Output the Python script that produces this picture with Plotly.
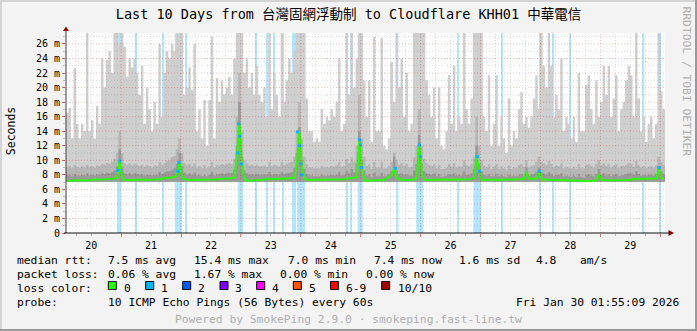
import plotly.graph_objects as go
from datetime import datetime, timedelta

# ---------------- data ----------------
END_TIME = datetime(2026, 1, 30, 1, 55, 9)
HOURS = 240
START_TIME = END_TIME - timedelta(hours=HOURS)
Y_MAX = 27.5          # ms, top of graph
SMOKE_FLOOR = 7.05    # ms, lowest ping

# outer smoke (max ping) per hour, ms; one list per day starting 01:55
smoke_max_d1 = [16.5, 17.2, 13, 22.7, 15, 13, 15, 14, 27.5, 14, 15.5, 13, 17.5, 15, 24, 20, 23.8, 25, 22, 27.5, 27.5, 26, 27.5, 25.6]
smoke_max_d2 = [21.5, 24, 22.8, 24, 22, 19, 23, 15, 20, 17, 14, 18, 15, 26, 16, 22, 25, 24, 26, 25, 27.5, 27.5, 27.5, 19]
smoke_max_d3 = [20, 22.8, 19.7, 26, 14, 17, 13, 18.3, 12, 18.3, 27, 13, 21.3, 18, 21, 19, 20, 21.5, 19, 24, 27.5, 27.5, 27.5, 22]
smoke_max_d4 = [24, 20, 22, 19, 23, 19, 18, 20, 16, 27.5, 17, 22, 19, 16, 27.5, 18, 21, 24, 22, 25, 27.5, 27.5, 27.5, 27.5]
smoke_max_d5 = [18.5, 14, 14, 12.5, 13, 12.5, 17, 15, 16, 15.5, 17, 16, 18, 24, 14, 15, 27.5, 19, 27.5, 20, 24, 27.5, 27.5, 21]
smoke_max_d6 = [16, 21, 12.5, 27, 14, 14, 26.8, 12, 11.5, 13, 23.5, 18, 27.5, 20, 24, 16, 22, 14, 15, 27.5, 27.5, 27.5, 27.5, 27.5]
smoke_max_d7 = [21, 19, 16, 20, 13, 20, 12, 11.5, 14, 21.7, 15, 23, 14, 16, 15, 27.5, 17, 15, 18.5, 27.5, 27.5, 27.5, 27.5, 16]
smoke_max_d8 = [14, 21.7, 12, 15, 21.7, 12, 16, 13, 11, 18.5, 12, 14, 13, 17, 19.4, 15, 16, 14.5, 16, 18.5, 21.7, 17, 27.5, 23]
smoke_max_d9 = [20, 27.5, 23, 16, 19, 17, 24, 14, 16, 15, 13, 16, 12.5, 22, 14, 14, 20.4, 21.7, 17, 15, 21, 16, 18, 23]
smoke_max_d10 = [19, 23, 16, 18.5, 21.7, 14, 17, 18, 21, 23, 21.7, 16, 27.5, 18.5, 14, 16, 12.5, 15, 16, 13, 15, 27.5, 19.5, 17]

# inner smoke band (mid pings) per hour, ms
smoke_mid_d1 = [9.0, 9.2, 8.9, 9.3, 9.1, 9.0, 9.2, 9.0, 9.4, 9.1, 9.2, 9.0, 9.3, 9.2, 9.5, 9.4, 9.6, 9.5, 9.8, 10.2, 11, 14, 11, 9.6]
smoke_mid_d2 = [9.4, 9.6, 9.3, 9.5, 9.4, 9.2, 9.4, 9.1, 9.3, 9.2, 9.0, 9.3, 9.2, 9.8, 9.4, 9.6, 9.9, 10.0, 10.4, 10.6, 11.5, 13, 11, 9.6]
smoke_mid_d3 = [9.3, 9.5, 9.2, 9.6, 9.0, 9.2, 8.9, 9.3, 8.9, 9.2, 9.8, 9.0, 9.4, 9.3, 9.5, 9.4, 9.5, 9.6, 9.5, 10.2, 16, 22, 14, 10]
smoke_mid_d4 = [9.6, 9.3, 9.4, 9.2, 9.4, 9.2, 9.2, 9.3, 9.1, 9.8, 9.2, 9.4, 9.3, 9.1, 9.8, 9.3, 9.5, 9.7, 9.8, 10.5, 14, 18, 13, 10.5]
smoke_mid_d5 = [9.5, 9.0, 9.0, 8.9, 8.9, 8.9, 9.2, 9.0, 9.1, 9.0, 9.2, 9.1, 9.3, 9.8, 9.1, 9.2, 10.2, 9.6, 10.5, 9.8, 12, 19, 13, 10.5]
smoke_mid_d6 = [9.2, 9.5, 8.8, 9.8, 9.0, 9.0, 9.8, 8.9, 8.9, 9.2, 9.8, 11, 10, 9.4, 9.6, 9.2, 9.5, 9.0, 9.1, 10.4, 12, 17, 12, 10.2]
smoke_mid_d7 = [9.6, 9.4, 9.2, 9.5, 8.9, 9.4, 8.8, 8.8, 9.0, 9.5, 9.1, 9.6, 9.0, 9.2, 9.1, 10, 9.3, 9.2, 9.5, 10.5, 16, 12, 10, 9.2]
smoke_mid_d8 = [9.0, 9.5, 8.8, 9.1, 9.5, 8.8, 9.2, 8.9, 8.7, 9.3, 8.8, 9.0, 8.9, 9.3, 9.5, 9.1, 10, 9.0, 9.2, 9.4, 9.8, 10.5, 9.8, 9.6]
smoke_mid_d9 = [9.3, 9.9, 9.5, 9.1, 9.3, 9.2, 9.6, 8.9, 9.1, 9.0, 8.9, 9.1, 8.8, 9.5, 8.9, 8.9, 9.4, 9.5, 9.2, 9.0, 9.5, 10, 9.3, 9.6]
smoke_mid_d10 = [9.2, 9.5, 9.0, 9.3, 9.5, 8.9, 9.2, 9.2, 9.4, 9.6, 9.5, 9.1, 9.9, 9.3, 9.0, 9.2, 8.9, 9.1, 9.2, 9.0, 9.3, 10.5, 9.8, 9.4]

# innermost smoke band per hour, ms
smoke_in_d1 = [7.9, 8.0, 7.8, 8.1, 7.9, 7.9, 8.0, 7.9, 8.2, 7.9, 8.0, 7.9, 8.1, 8.0, 8.2, 8.1, 8.3, 8.2, 8.4, 8.6, 9.2, 11.5, 9, 8.2]
smoke_in_d2 = [8.1, 8.2, 8.0, 8.2, 8.1, 8.0, 8.1, 7.9, 8.0, 8.0, 7.9, 8.0, 8.0, 8.4, 8.1, 8.3, 8.5, 8.5, 8.7, 8.9, 9.5, 11, 9.2, 8.3]
smoke_in_d3 = [8.0, 8.2, 8.0, 8.3, 7.9, 8.0, 7.8, 8.0, 7.8, 8.0, 8.4, 7.9, 8.1, 8.1, 8.2, 8.1, 8.2, 8.3, 8.3, 8.7, 12, 18, 10.5, 8.6]
smoke_in_d4 = [8.2, 8.0, 8.1, 8.0, 8.1, 8.0, 8.0, 8.1, 8.0, 8.4, 8.0, 8.1, 8.1, 8.0, 8.4, 8.1, 8.2, 8.3, 8.4, 8.9, 11, 14.5, 10, 8.8]
smoke_in_d5 = [8.1, 7.9, 7.9, 7.8, 7.8, 7.8, 8.0, 7.9, 7.9, 7.9, 8.0, 7.9, 8.0, 8.4, 7.9, 8.0, 8.6, 8.2, 8.8, 8.4, 9.5, 14, 10, 8.6]
smoke_in_d6 = [7.9, 8.1, 7.7, 8.3, 7.8, 7.8, 8.3, 7.8, 7.9, 8.1, 8.5, 10.5, 8.6, 8.1, 8.2, 8.0, 8.1, 7.9, 7.9, 8.6, 9.5, 13.5, 9.5, 8.5]
smoke_in_d7 = [8.2, 8.1, 8.0, 8.2, 7.8, 8.1, 7.7, 7.8, 7.9, 8.1, 8.0, 8.2, 7.9, 8.0, 7.9, 8.5, 8.0, 8.0, 8.2, 8.8, 12, 9.5, 8.5, 8.0]
smoke_in_d8 = [7.9, 8.1, 7.8, 7.9, 8.1, 7.8, 8.0, 7.8, 7.7, 8.0, 7.8, 7.9, 7.8, 8.0, 8.1, 7.9, 9, 7.9, 8.0, 8.1, 8.4, 9, 8.4, 8.2]
smoke_in_d9 = [8.0, 8.4, 8.1, 7.9, 8.0, 8.0, 8.2, 7.8, 7.9, 7.8, 7.7, 7.9, 7.7, 8.1, 7.7, 7.6, 8.0, 8.1, 7.9, 7.8, 8.1, 8.8, 8.0, 8.2]
smoke_in_d10 = [7.9, 8.1, 7.8, 8.0, 8.1, 7.8, 7.9, 8.0, 8.1, 8.2, 8.2, 8.0, 8.5, 8.1, 7.9, 8.0, 7.9, 8.0, 8.0, 7.9, 8.1, 9.2, 8.5, 8.1]

# median rtt per hour, ms
median_d1 = [7.2, 7.2, 7.25, 7.25, 7.3, 7.3, 7.3, 7.25, 7.3, 7.3, 7.3, 7.35, 7.35, 7.3, 7.35, 7.4, 7.4, 7.45, 7.45, 7.5, 7.6, 9.9, 7.5, 7.3]
median_d2 = [7.3, 7.3, 7.3, 7.25, 7.3, 7.3, 7.3, 7.3, 7.35, 7.35, 7.3, 7.35, 7.35, 7.4, 7.5, 7.55, 7.55, 7.6, 7.6, 7.7, 8.0, 9.7, 7.6, 7.4]
median_d3 = [7.3, 7.3, 7.3, 7.3, 7.25, 7.3, 7.3, 7.3, 7.3, 7.3, 7.35, 7.35, 7.4, 7.45, 7.45, 7.45, 7.5, 7.5, 7.5, 7.6, 11, 15, 9, 7.4]
median_d4 = [7.2, 7.2, 7.2, 7.2, 7.2, 7.25, 7.3, 7.4, 7.45, 7.45, 7.45, 7.4, 7.45, 7.5, 7.5, 7.45, 7.5, 7.5, 7.55, 7.6, 9.5, 13.9, 9, 7.5]
median_d5 = [7.3, 7.3, 7.3, 7.3, 7.3, 7.3, 7.3, 7.3, 7.3, 7.3, 7.3, 7.3, 7.3, 7.35, 7.4, 7.4, 7.5, 7.5, 7.55, 7.6, 7.7, 12.8, 9, 7.3]
median_d6 = [7.2, 7.2, 7.2, 7.2, 7.2, 7.2, 7.2, 7.3, 7.5, 7.7, 8.0, 8.9, 7.6, 7.4, 7.3, 7.3, 7.3, 7.3, 7.3, 7.35, 7.5, 12.1, 8.5, 7.3]
median_d7 = [7.3, 7.3, 7.3, 7.3, 7.3, 7.3, 7.3, 7.35, 7.4, 7.4, 7.35, 7.3, 7.3, 7.3, 7.3, 7.3, 7.35, 7.4, 7.45, 7.6, 10.5, 8.5, 7.3, 7.3]
median_d8 = [7.3, 7.3, 7.3, 7.3, 7.3, 7.3, 7.3, 7.3, 7.3, 7.35, 7.4, 7.4, 7.4, 7.4, 7.4, 7.45, 8.4, 7.45, 7.4, 7.45, 7.5, 8.5, 7.4, 7.35]
median_d9 = [7.35, 7.3, 7.3, 7.3, 7.3, 7.3, 7.3, 7.3, 7.25, 7.25, 7.2, 7.2, 7.2, 7.2, 7.2, 7.1, 7.1, 7.2, 7.2, 7.2, 7.25, 8.1, 7.3, 7.25]
median_d10 = [7.25, 7.25, 7.25, 7.25, 7.25, 7.25, 7.25, 7.3, 7.3, 7.3, 7.4, 7.45, 7.45, 7.45, 7.45, 7.45, 7.45, 7.5, 7.45, 7.45, 7.5, 8.9, 7.5, 7.45]

# dark cores of the evening peaks: hour index and top (ms)
core_hour = [21, 45, 68, 69, 70, 92, 93, 94, 117, 118, 131, 141, 164, 165, 184, 189, 213, 237]
core_top = [10.5, 10.3, 11, 16, 9.5, 10, 14, 9, 13.5, 9, 9.8, 12.8, 11.2, 8.8, 8.6, 8.7, 8.4, 8.9]

# packet-loss periods: start (hours after start) and length (hours)
loss_start_h = [20.6, 21.6, 28.0, 38.8, 43.9, 44.5, 45.2, 45.9, 47.8, 69.0, 69.5, 70.3, 76.0, 80.5, 83.2, 86.7,
                90.8, 91.7, 92.6, 112.3, 114.0, 116.9, 132.3, 140.3, 156.9, 163.2, 174.3, 189.6, 194.9, 201.6, 230.9, 237.6]
loss_len_h = [0.4, 0.4, 0.4, 0.4, 0.45, 0.45, 0.45, 0.5, 0.4, 0.45, 0.45, 0.45, 0.4, 0.4, 0.4, 0.4,
              0.4, 0.4, 3.2, 0.4, 0.4, 2.0, 0.9, 2.9, 0.4, 3.2, 0.4, 0.4, 0.4, 0.4, 0.4, 0.4]

# median samples with 1/10 loss (hours after start, ms)
loss_dot_h = [20.8, 21.6, 44.8, 45.2, 68.8, 69.2, 69.6, 70.2, 92.8, 93.6, 94.0, 94.4, 117.6, 118.0, 118.4,
              132.0, 141.6, 142.0, 164.8, 165.6, 189.6, 237.6]
loss_dot_ms = [8.6, 9.9, 8.5, 9.7, 11.0, 15.0, 13.3, 9.5, 13.9, 12.0, 9.5, 8.0, 12.8, 12.1, 9.0,
               8.9, 12.1, 10.5, 10.5, 8.5, 8.5, 9.0]

# y tick labels
y_tick_vals = [0, 2, 4, 6, 8, 10, 12, 14, 16, 18, 20, 22, 24, 26]
y_tick_text = ["0", "2 m", "4 m", "6 m", "8 m", "10 m", "12 m", "14 m", "16 m", "18 m", "20 m", "22 m", "24 m", "26 m"]

# legend / statistics
med_stat_vals = [7.5, 15.4, 7.0, 7.4, 1.6]
med_stat_names = ["avg", "max", "min", "now", "sd"]
am_s_val = 4.8
loss_stat_vals = [0.06, 1.67, 0.00, 0.00]
loss_stat_names = ["avg", "max", "min", "now"]
loss_labels = ["0", "1", "2", "3", "4", "5", "6-9", "10/10"]
loss_colors = ["#26ff00", "#00b8ff", "#0059ff", "#7e00ff", "#ff00ff", "#ff5500", "#ff0000", "#a10000"]

TITLE = "Last 10 Days from 台灣固網浮動制 to Cloudflare KHH01 中華電信"
PROBE = "10 ICMP Echo Pings (56 Bytes) every 60s"
STAMP = "Fri Jan 30 01:55:09 2026"
FOOTER = "Powered by SmokePing 2.9.0 · smokeping.fast-line.tw"
SIDE = "RRDTOOL / TOBI OETIKER"

smoke_max = (smoke_max_d1 + smoke_max_d2 + smoke_max_d3 + smoke_max_d4 + smoke_max_d5 +
             smoke_max_d6 + smoke_max_d7 + smoke_max_d8 + smoke_max_d9 + smoke_max_d10)
smoke_mid = (smoke_mid_d1 + smoke_mid_d2 + smoke_mid_d3 + smoke_mid_d4 + smoke_mid_d5 +
             smoke_mid_d6 + smoke_mid_d7 + smoke_mid_d8 + smoke_mid_d9 + smoke_mid_d10)
smoke_in = (smoke_in_d1 + smoke_in_d2 + smoke_in_d3 + smoke_in_d4 + smoke_in_d5 +
            smoke_in_d6 + smoke_in_d7 + smoke_in_d8 + smoke_in_d9 + smoke_in_d10)
median = (median_d1 + median_d2 + median_d3 + median_d4 + median_d5 +
          median_d6 + median_d7 + median_d8 + median_d9 + median_d10)

# ---------------- layout constants ----------------
FIG_W, FIG_H = 697, 331
L, R_EDGE, T, B = 66, 665, 33, 233
PW, PH = R_EDGE - L, B - T
MONO = "DejaVu Sans Mono, Noto Sans CJK TC, monospace"
GRID = "rgba(130,130,130,0.30)"
MGRID = "rgba(200,0,0,0.26)"
HOUR_MS = 3600000


def px(x):
    return (x - L) / PW


def py(y):
    return (B - y) / PH


def hx(h):
    return START_TIME + timedelta(hours=h)


edges = [hx(i) for i in range(HOURS + 1)]
centers = [hx(i + 0.5) for i in range(HOURS)]

fig = go.Figure()

# loss stripes (behind smoke)
fig.add_trace(go.Bar(
    x=[hx(s + l / 2) for s, l in zip(loss_start_h, loss_len_h)],
    y=[Y_MAX] * len(loss_start_h), base=0,
    width=[l * HOUR_MS for l in loss_len_h],
    marker=dict(color="#b4e5fa", line=dict(width=0)),
    hoverinfo="skip", showlegend=False))


def smoke_layer(top, color):
    fig.add_trace(go.Scatter(x=edges, y=[SMOKE_FLOOR] * (HOURS + 1), mode="lines",
                             line=dict(width=0, shape="hv"), hoverinfo="skip", showlegend=False))
    fig.add_trace(go.Scatter(x=edges, y=top + [top[-1]], mode="lines",
                             line=dict(width=0, shape="hv"), fill="tonexty", fillcolor=color,
                             hoverinfo="skip", showlegend=False))


smoke_layer(smoke_max, "#cfcfcf")
smoke_layer(smoke_mid, "#b6b6b6")
smoke_layer(smoke_in, "#9a9a9a")

fig.add_trace(go.Bar(
    x=[hx(h + 0.5) for h in core_hour],
    y=[t - SMOKE_FLOOR for t in core_top], base=SMOKE_FLOOR, width=HOUR_MS,
    marker=dict(color="#1c1c1c", line=dict(width=0)),
    hoverinfo="skip", showlegend=False))

fig.add_trace(go.Scatter(x=centers, y=median, mode="lines",
                         line=dict(color=loss_colors[0], width=2),
                         hoverinfo="skip", showlegend=False))
fig.add_trace(go.Scatter(x=[hx(h) for h in loss_dot_h], y=loss_dot_ms, mode="markers",
                         marker=dict(color=loss_colors[1], size=3, symbol="square", line=dict(width=0)),
                         hoverinfo="skip", showlegend=False))

shapes = []
# grid on top of the data (rrdtool style)
for v in range(1, 28):
    shapes.append(dict(type="line", xref="paper", yref="y", x0=0, x1=1, y0=v, y1=v, layer="above",
                       line=dict(color=MGRID if v % 2 == 0 else GRID, width=1, dash="1px,2px")))
g = datetime(2026, 1, 20, 6, 0, 0)
while g < END_TIME:
    shapes.append(dict(type="line", xref="x", yref="paper", x0=g, x1=g, y0=0, y1=1, layer="above",
                       line=dict(color=MGRID if g.hour == 0 else GRID, width=1, dash="1px,2px")))
    g += timedelta(hours=6)

# axes with arrows
shapes.append(dict(type="line", xref="paper", yref="paper", x0=px(L), x1=px(L), y0=py(B), y1=py(30.5),
                   layer="above", line=dict(color="#404040", width=1)))
shapes.append(dict(type="line", xref="paper", yref="paper", x0=px(L - 2), x1=px(669), y0=py(B), y1=py(B),
                   layer="above", line=dict(color="#101010", width=1)))
shapes.append(dict(type="path", xref="paper", yref="paper", layer="above",
                   path=f"M {px(L)},{py(26.5)} L {px(L - 3)},{py(31)} L {px(L + 3)},{py(31)} Z",
                   fillcolor="#8b0000", line=dict(width=0)))
shapes.append(dict(type="path", xref="paper", yref="paper", layer="above",
                   path=f"M {px(674)},{py(B)} L {px(668.5)},{py(230)} L {px(668.5)},{py(236)} Z",
                   fillcolor="#8b0000", line=dict(width=0)))

# frame shades
shapes.append(dict(type="rect", xref="paper", yref="paper", x0=px(0), x1=px(FIG_W), y0=py(0), y1=py(2),
                   fillcolor="#d4d4d4", line=dict(width=0), layer="above"))
shapes.append(dict(type="rect", xref="paper", yref="paper", x0=px(0), x1=px(2), y0=py(0), y1=py(FIG_H),
                   fillcolor="#d4d4d4", line=dict(width=0), layer="above"))
shapes.append(dict(type="rect", xref="paper", yref="paper", x0=px(0), x1=px(FIG_W), y0=py(FIG_H - 2), y1=py(FIG_H),
                   fillcolor="#9a9a9a", line=dict(width=0), layer="above"))
shapes.append(dict(type="rect", xref="paper", yref="paper", x0=px(FIG_W - 2), x1=px(FIG_W), y0=py(0), y1=py(FIG_H),
                   fillcolor="#9a9a9a", line=dict(width=0), layer="above"))

# loss colour boxes
box_x = [108.3, 145.7, 182.7, 220.0, 256.7, 293.3, 330.5, 381.7]
box_lbl_x = [122.7, 160.0, 197.3, 234.3, 271.0, 308.3, 345.0, 396.7]
for bx, c in zip(box_x, loss_colors):
    shapes.append(dict(type="rect", xref="paper", yref="paper", x0=px(bx), x1=px(bx + 8),
                       y0=py(289.5), y1=py(281.5), fillcolor=c, line=dict(color="#000000", width=1), layer="above"))

ann = []


def txt(x, y, s, anchor="left", size=11.3, color="#000000", angle=0):
    ann.append(dict(xref="paper", yref="paper", x=px(x), y=py(y), text=s, showarrow=False,
                    xanchor=anchor, yanchor="middle", textangle=angle, borderpad=0,
                    font=dict(family=MONO, size=size, color=color)))


LINE_Y = [260, 274, 288, 302, 319]
txt(16, LINE_Y[0], "median rtt:")
for xx, v, n in zip([107.3, 193.3, 286.7, 372.7, 458.3], med_stat_vals, med_stat_names):
    txt(xx, LINE_Y[0], f"{v:.1f} ms {n}")
txt(535, LINE_Y[0], f"{am_s_val:.1f}")
txt(579.3, LINE_Y[0], "am/s")
txt(16, LINE_Y[1], "packet loss:")
for xx, v, n in zip([107.3, 193.3, 279.3, 365.0], loss_stat_vals, loss_stat_names):
    txt(xx, LINE_Y[1], f"{v:.2f} % {n}")
txt(16, LINE_Y[2], "loss color:")
for lx, lab in zip(box_lbl_x, loss_labels):
    txt(lx, LINE_Y[2], lab)
txt(16, LINE_Y[3], "probe:")
txt(107.3, LINE_Y[3], PROBE)
txt(680, LINE_Y[3], STAMP, anchor="right")
txt(348.7, LINE_Y[4], FOOTER, anchor="center", color="#b0b0b0")
txt(686, 81.5, SIDE, anchor="center", color="#b0b0b0", angle=90)
txt(10.5, 131.7, "Seconds", anchor="center", size=11.5, angle=-90)

fig.update_layout(
    width=FIG_W, height=FIG_H,
    margin=dict(l=L, r=FIG_W - R_EDGE, t=T, b=FIG_H - B, pad=0),
    paper_bgcolor="#f3f3f3", plot_bgcolor="#ffffff",
    barmode="overlay", showlegend=False, hovermode=False,
    title=dict(text=TITLE, x=0.5, xanchor="center", xref="container", y=1 - 14.5 / FIG_H, yanchor="middle",
               font=dict(family=MONO, size=13.5, color="#000000")),
    xaxis=dict(type="date", range=[START_TIME, END_TIME], tick0="2026-01-20 00:00:00", dtick=86400000,
               ticklabelmode="period", tickformat="%d", ticks="outside", ticklen=3, tickcolor="rgba(200,0,0,0.5)",
               showgrid=False, zeroline=False, showline=False,
               tickfont=dict(family=MONO, size=10, color="#000000"),
               minor=dict(dtick=6 * HOUR_MS, ticks="outside", ticklen=2, tickcolor="rgba(130,130,130,0.5)",
                          showgrid=False)),
    yaxis=dict(range=[0, Y_MAX], tickmode="array", tickvals=y_tick_vals, ticktext=y_tick_text,
               ticks="outside", ticklen=3, tickcolor="rgba(200,0,0,0.5)", showgrid=False, zeroline=False,
               showline=False, tickfont=dict(family=MONO, size=10, color="#000000"),
               minor=dict(tickmode="linear", tick0=0, dtick=1, ticks="outside", ticklen=2,
                          tickcolor="rgba(130,130,130,0.5)", showgrid=False)),
    shapes=shapes, annotations=ann,
)

fig.write_html("out.html")
